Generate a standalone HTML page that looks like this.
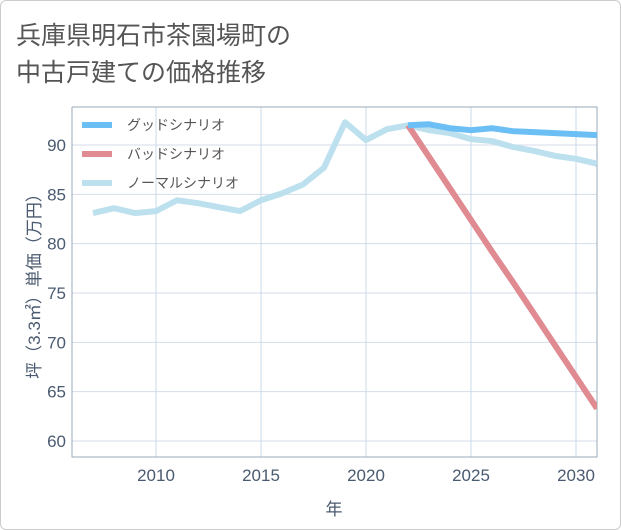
<!DOCTYPE html>
<html><head><meta charset="utf-8">
<style>
body{margin:0;background:#fff;}
#wrap{position:relative;width:619px;height:528px;border:1px solid #ccc;border-radius:6px;overflow:hidden;background:#fff;}
.t{font-family:"Liberation Sans","Noto Sans CJK JP",sans-serif;}
</style></head>
<body>
<div id="wrap">
<svg id="svg" width="621" height="530" xmlns="http://www.w3.org/2000/svg" style="position:absolute;left:-1px;top:-1px">
<text class="t" x="16" y="44" font-size="25" fill="#555">兵庫県明石市茶園場町の</text>
<text class="t" x="16" y="81" font-size="25" fill="#555">中古戸建ての価格推移</text>
<g id="grid"></g>
<g id="series"></g>
<g id="legend"></g>
</svg>
</div>
<script>
const years=[2007,2008,2009,2010,2011,2012,2013,2014,2015,2016,2017,2018,2019,2020,2021,2022,2023,2024,2025,2026,2027,2028,2029,2030,2031];
const normalVals=[83.1,83.6,83.1,83.3,84.4,84.1,83.7,83.3,84.4,85.1,86.0,87.7,92.3,90.5,91.6,92.0,91.5,91.2,90.6,90.4,89.8,89.4,88.9,88.6,88.1];
const futureYears=[2022,2023,2024,2025,2026,2027,2028,2029,2030,2031];
const goodVals=[92.0,92.1,91.7,91.5,91.7,91.4,91.3,91.2,91.1,91.0];
const badVals=[92.0,88.8,85.6,82.4,79.2,76.1,72.9,69.7,66.5,63.3];
const yTicks=[60,65,70,75,80,85,90];
const xTicks=[2010,2015,2020,2025,2030];
const legendLabels=["グッドシナリオ","バッドシナリオ","ノーマルシナリオ"];
const colors=["#6bbff5","#e08a92","#bde0ef"];

const L=72,R=597,T=107,B=457;
const xs=v=>156+(v-2010)*21;
const ys=v=>441-(v-60)*(296/30);
const NS="http://www.w3.org/2000/svg";
function mk(tag,attrs,parent){const e=document.createElementNS(NS,tag);for(const k in attrs)e.setAttribute(k,attrs[k]);parent.appendChild(e);return e;}
const grid=document.getElementById('grid');
yTicks.forEach(v=>{
  const l=mk('line',{x1:L,x2:R,y1:ys(v),y2:ys(v),stroke:'#d5dde8','stroke-width':1},grid);
  
  
  const t=mk('text',{x:L-6,y:ys(v)+6,'text-anchor':'end','font-size':17,fill:'#4a5a70',class:'t'},grid);
  t.textContent=v;
  
  
});
xTicks.forEach(v=>{
  const l=mk('line',{x1:xs(v),x2:xs(v),y1:T,y2:B,stroke:'#c8d8ea','stroke-width':1},grid);
  
  
  const t=mk('text',{x:xs(v),y:B+24,'text-anchor':'middle','font-size':17,fill:'#4a5a70',class:'t'},grid);
  t.textContent=v;
  
  
});
const ax=mk('path',{d:`M${L},${T} L${L},${B} L${R},${B} L${R},${T} L${L},${T}`,fill:'none',stroke:'#9aa8b8','stroke-width':1},grid);


const xt=mk('text',{x:334,y:515,'text-anchor':'middle','font-size':17,fill:'#4a5a70',class:'t'},grid);
xt.textContent='年';


const yt=mk('text',{x:0,y:0,'text-anchor':'middle','font-size':17,fill:'#4a5a70',class:'t',transform:`translate(40,${(T+B)/2}) rotate(-90)`},grid);
yt.textContent='坪（3.3㎡）単価（万円）';



const ser=document.getElementById('series');
function line(xv,yv,c,name){
  const d=xv.map((x,i)=>(i?'L':'M')+xs(x)+','+ys(yv[i])).join(' ');
  const p=mk('path',{d:d,fill:'none',stroke:c,'stroke-width':6,'stroke-linejoin':'round'},ser);
  
  
}
const clip=mk('clipPath',{id:'cp'},document.getElementById('svg'));
mk('rect',{x:L,y:T,width:R-L,height:B-T},clip);
ser.setAttribute('clip-path','url(#cp)');
line(years,normalVals,colors[2],'normal-scenario-line');
line(futureYears,badVals,colors[1],'bad-scenario-line');
line(futureYears,goodVals,colors[0],'good-scenario-line');

const lg=document.getElementById('legend');
legendLabels.forEach((s,i)=>{
  const y=125+i*29;
  const l=mk('line',{x1:82,x2:112,y1:y,y2:y,stroke:colors[i],'stroke-width':6},lg);
  
  
  const t=mk('text',{x:127,y:y+5,'font-size':14,fill:'#555',class:'t'},lg);
  t.textContent=s;
  
  
});
</script>
</body></html>
